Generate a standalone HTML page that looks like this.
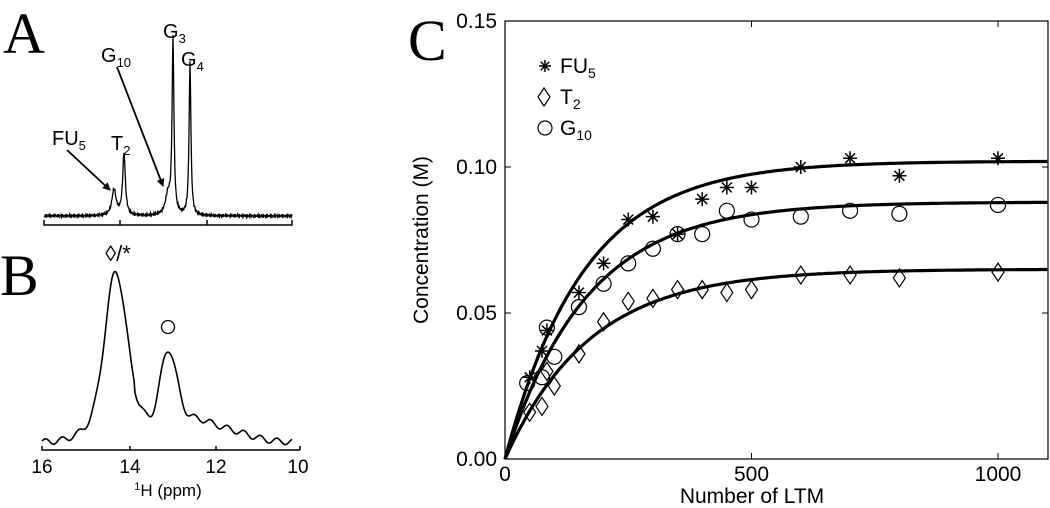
<!DOCTYPE html>
<html><head><meta charset="utf-8"><style>
html,body{margin:0;padding:0;background:#fff;}
svg{display:block;font-family:"Liberation Sans",Arial,sans-serif;}
</style></head><body>
<svg id="fig" width="1050" height="508" viewBox="0 0 1050 508" xmlns="http://www.w3.org/2000/svg">
<defs><marker id="ah" markerWidth="8" markerHeight="8" refX="7" refY="4" orient="auto" markerUnits="userSpaceOnUse"><path d="M0,0 L8,4 L0,8 z" fill="#000"/></marker></defs>
<!-- Panel A -->
<g>
<text x="3" y="53" font-family="Liberation Serif,serif" font-size="58">A</text>
<path id="specA" fill="none" stroke="#000" stroke-width="1.3"/>
<path d="M44,220 V225 H292 V220 M120,225 V220 M207,225 V220" fill="none" stroke="#000" stroke-width="1.5"/>
<text x="52" y="145" font-size="20">FU<tspan font-size="13" dy="5">5</tspan></text>
<text x="111" y="150" font-size="20">T<tspan font-size="13" dy="5">2</tspan></text>
<text x="101" y="62" font-size="20">G<tspan font-size="13" dy="5">10</tspan></text>
<text x="163" y="38" font-size="20">G<tspan font-size="13" dy="5">3</tspan></text>
<text x="181" y="66" font-size="20">G<tspan font-size="13" dy="5">4</tspan></text>
<line x1="67" y1="150" x2="110" y2="190" stroke="#000" stroke-width="1.8" marker-end="url(#ah)"/>
<line x1="117" y1="67" x2="163" y2="186" stroke="#000" stroke-width="1.8" marker-end="url(#ah)"/>
</g>
<!-- Panel B -->
<g>
<text x="0" y="295" font-family="Liberation Serif,serif" font-size="58">B</text>
<path id="specB" fill="none" stroke="#000" stroke-width="1.6"/>
<path d="M42,446 V450 H300 M130,450 V446 M216,450 V446 M300,450 V446" fill="none" stroke="#000" stroke-width="1.5"/>
<text x="42" y="473" font-size="19" text-anchor="middle">16</text>
<text x="130" y="473" font-size="19" text-anchor="middle">14</text>
<text x="216" y="473" font-size="19" text-anchor="middle">12</text>
<text x="298" y="473" font-size="19" text-anchor="middle">10</text>
<text x="168" y="496" font-size="17" text-anchor="middle"><tspan font-size="11" dy="-6">1</tspan><tspan dy="6">H (ppm)</tspan></text>
<text x="118" y="261" font-size="22" text-anchor="middle">◊/*</text>
<circle cx="168" cy="327" r="6.5" fill="none" stroke="#000" stroke-width="1.3"/>
</g>
<!-- Panel C -->
<g id="pc">
<text x="408" y="60" font-family="Liberation Serif,serif" font-size="58">C</text>
</g>
</svg>
<script>
// ---- Panel C data ----
const fuX=[50,75,85,150,200,250,300,350,400,450,500,600,700,800,1000];
const fuY=[0.028,0.037,0.044,0.057,0.067,0.082,0.083,0.077,0.089,0.093,0.093,0.100,0.103,0.097,0.103];
const gX=[45,75,85,100,150,200,250,300,350,400,450,500,600,700,800,1000];
const gY=[0.026,0.028,0.045,0.035,0.052,0.060,0.067,0.072,0.077,0.077,0.085,0.082,0.083,0.085,0.084,0.087];
const tX=[50,75,85,100,150,200,250,300,350,400,450,500,600,700,800,1000];
const tY=[0.016,0.018,0.030,0.025,0.036,0.047,0.054,0.055,0.058,0.058,0.057,0.058,0.063,0.063,0.062,0.064];
const fitAmp=[0.102,0.088,0.065];
const fitTau=[160,166,172];
const xTicks=[0,500,1000];
const yTicks=[0,0.05,0.10,0.15];
const yTickLabels=["0.00","0.05","0.10","0.15"];
const legendLabels=[["FU","5"],["T","2"],["G","10"]];

const NS="http://www.w3.org/2000/svg";
const L=505,R=1048,T=21,B=459;
const X=v=>L+v*(998-505)/1000;
const Y=v=>B-v/0.15*(B-T);
const pc=document.getElementById('pc');
function mk(tag,attrs,parent){const e=document.createElementNS(NS,tag);for(const k in attrs)e.setAttribute(k,attrs[k]);(parent||pc).appendChild(e);return e;}
let fr=mk('rect',{x:L,y:T,width:R-L,height:B-T,fill:'none',stroke:'#000','stroke-width':1.2});


xTicks.forEach(v=>{
 let t=mk('path',{d:`M${X(v)},${B} V${B-6} M${X(v)},${T} V${T+6}`,stroke:'#000','stroke-width':1});
 
 
 let tx=mk('text',{x:X(v),y:B+22,'font-size':21,'text-anchor':'middle'});tx.textContent=v;
 
 
});
yTicks.forEach((v,i)=>{
 let t=mk('path',{d:`M${L},${Y(v)} H${L+6} M${R},${Y(v)} H${R-6}`,stroke:'#000','stroke-width':1});
 
 
 let tx=mk('text',{x:L-8,y:Y(v)+7,'font-size':21,'text-anchor':'end'});tx.textContent=yTickLabels[i];
 
 
});
let xt=mk('text',{x:752,y:503,'font-size':21,'text-anchor':'middle'});xt.textContent='Number of LTM';


let yt=mk('text',{x:0,y:0,'font-size':21,'text-anchor':'middle',transform:`translate(428,240) rotate(-90)`});yt.textContent='Concentration (M)';


// fits
fitAmp.forEach((A,i)=>{
 let d='';for(let x=0;x<=1100;x+=5){d+=(x?'L':'M')+X(x).toFixed(1)+','+Y(A*(1-Math.exp(-x/fitTau[i]))).toFixed(1);}
 let p=mk('path',{d,fill:'none',stroke:'#000','stroke-width':3.2});
 
 
});
function star(cx,cy,r){let d='';for(let k=0;k<4;k++){const a=k*Math.PI/4+Math.PI/2;d+=`M${cx-r*Math.cos(a)},${cy-r*Math.sin(a)}L${cx+r*Math.cos(a)},${cy+r*Math.sin(a)}`;}return d;}
function diamond(cx,cy){return `M${cx},${cy-9}L${cx+6},${cy}L${cx},${cy+9}L${cx-6},${cy}Z`;}
fuX.forEach((x,i)=>{let p=mk('path',{d:star(X(x),Y(fuY[i]),7),stroke:'#000','stroke-width':1.5,fill:'none'});
 
 });
gX.forEach((x,i)=>{let p=mk('circle',{cx:X(x),cy:Y(gY[i]),r:7.5,stroke:'#000','stroke-width':1.2,fill:'none'});
 
 });
tX.forEach((x,i)=>{let p=mk('path',{d:diamond(X(x),Y(tY[i])),stroke:'#000','stroke-width':1.2,fill:'none'});
 
 });
// legend
const ly=[73,104,135];
legendLabels.forEach((lb,i)=>{
 let sym;
 if(i===0)sym=mk('path',{d:star(545,ly[i]-7,6),stroke:'#000','stroke-width':1.5});
 else if(i===1)sym=mk('path',{d:diamond(544,ly[i]-7),stroke:'#000','stroke-width':1.2,fill:'none'});
 else sym=mk('circle',{cx:545,cy:ly[i]-7,r:7,stroke:'#000','stroke-width':1.2,fill:'none'});
 
 
 let t=mk('text',{x:560,y:ly[i],'font-size':21});
 t.innerHTML=lb[0]+'<tspan font-size="14" dy="5">'+lb[1]+'</tspan>';
 
 
});
// ---- Panel A spectrum ----
const peaksA=[[114,26,2.5],[124,62,1.6],[168,20,3],[173,174,1.1],[190,152,1.1]];
let dA='';for(let x=44;x<=292;x+=0.5){let y=216;peaksA.forEach(p=>{y-=p[1]/(1+((x-p[0])/p[2])**2);});y+=Math.sin(x*3.7)*1.2+Math.sin(x*7.3)*0.9;dA+=(x>44?'L':'M')+x+','+y.toFixed(1);}
document.getElementById('specA').setAttribute('d',dA);
// ---- Panel B spectrum ----
const peaksB=[[116,150,15],[168,80,12]];
let dB='';for(let x=42;x<=292;x+=1){let y=442;y-=(x<135?22:0)*Math.exp(-(((x-105)/28)**2));y-=24*Math.exp(-(((x-140)/14)**2));y-=22*Math.exp(-(((x-190)/28)**2));y-=10*Math.exp(-(((x-230)/30)**2));peaksB.forEach(p=>{y-=p[1]*Math.exp(-(((x-p[0])/p[2])**2));});y+=3*Math.sin(x*0.38);dB+=(x>42?'L':'M')+x+','+y.toFixed(1);}
document.getElementById('specB').setAttribute('d',dB);
</script>
</body></html>
